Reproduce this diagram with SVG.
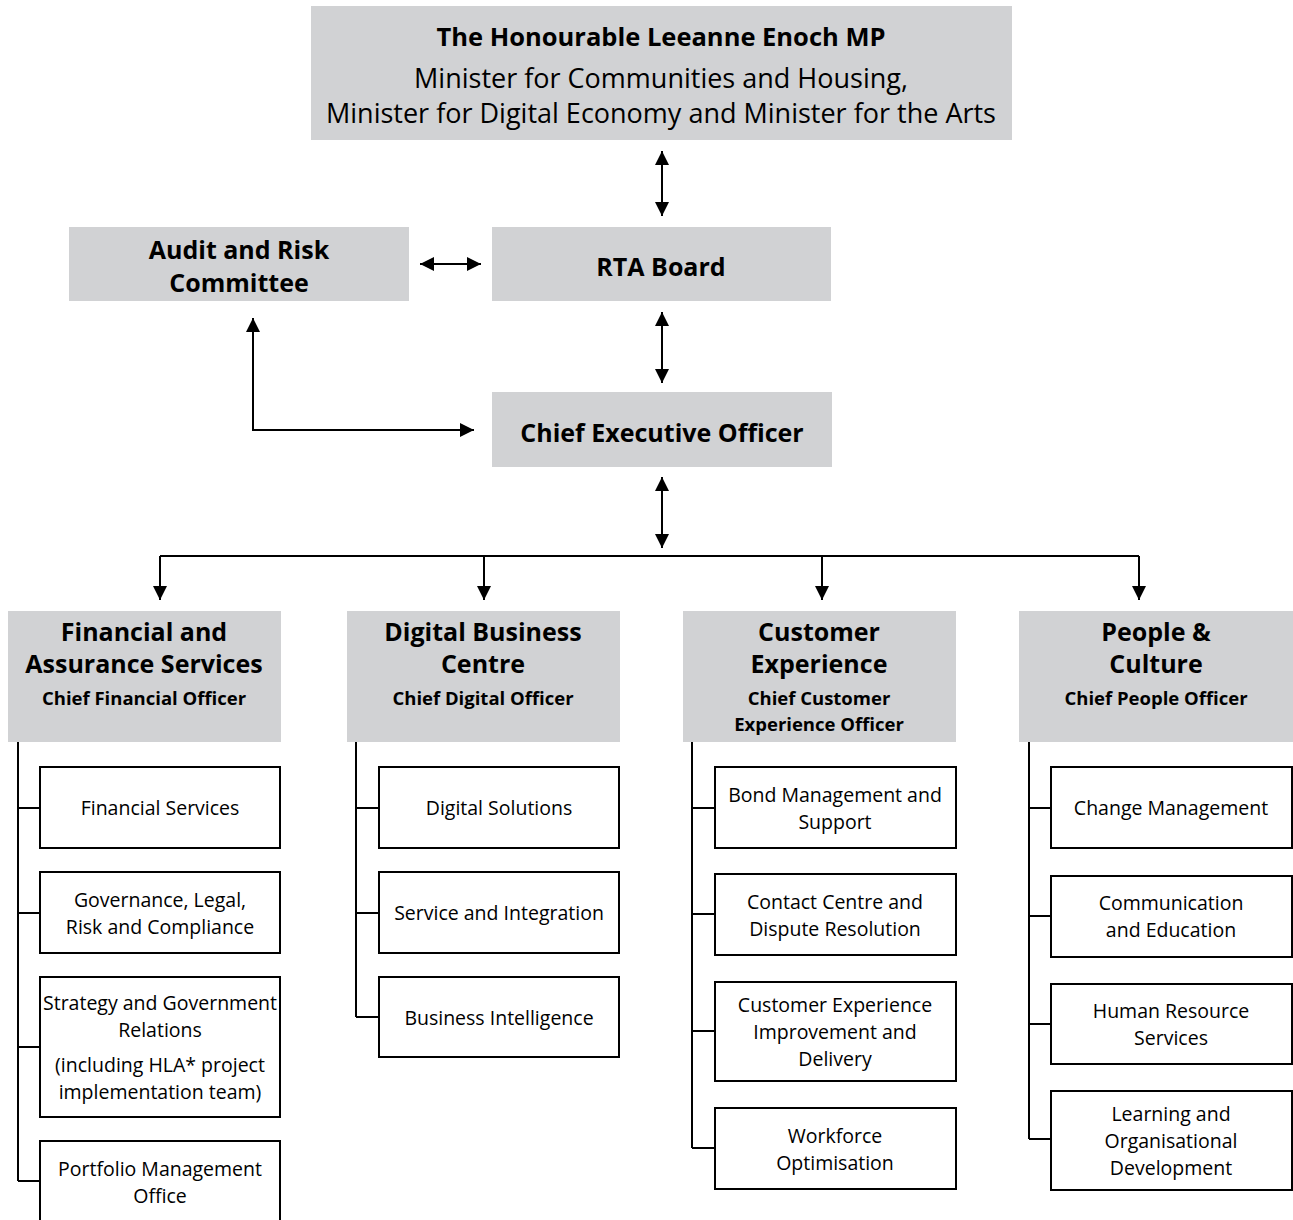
<svg xmlns="http://www.w3.org/2000/svg" width="1293" height="1220" viewBox="0 0 1293 1220">
<style>
.g{fill:#d1d2d4}
.b{fill:#fff;stroke:#000;stroke-width:2}
text{font-family:"Open Sans","Noto Sans",sans-serif;fill:#000;text-anchor:middle}
.h{font-weight:bold;font-size:25px}
.m{font-size:27px}
.s{font-weight:bold;font-size:18.5px}
.t{font-size:19.5px}
.c{fill:none;stroke:#000;stroke-width:2}
</style>
<defs>
<marker id="a" viewBox="0 0 10 10" refX="10" refY="5" markerWidth="14" markerHeight="14" markerUnits="userSpaceOnUse" orient="auto-start-reverse"><path d="M0,0L10,5L0,10z" fill="#000"/></marker>
</defs>
<rect width="1293" height="1220" fill="#fff"/>
<g id="connectors">
<line class="c" x1="662" y1="151" x2="662" y2="216" marker-start="url(#a)" marker-end="url(#a)"/>
<line class="c" x1="420" y1="264" x2="481" y2="264" marker-start="url(#a)" marker-end="url(#a)"/>
<line class="c" x1="662" y1="312" x2="662" y2="383" marker-start="url(#a)" marker-end="url(#a)"/>
<path class="c" d="M253,318V430H474" marker-start="url(#a)" marker-end="url(#a)"/>
<line class="c" x1="662" y1="477" x2="662" y2="548" marker-start="url(#a)" marker-end="url(#a)"/>
<path class="c" d="M160,556H1139"/>
<path class="c" d="M160,556V600" marker-end="url(#a)"/>
<path class="c" d="M484,556V600" marker-end="url(#a)"/>
<path class="c" d="M822,556V600" marker-end="url(#a)"/>
<path class="c" d="M1139,556V600" marker-end="url(#a)"/>
<path class="c" d="M18,742V1181M18,808H40M18,913H40M18,1047H40M18,1181H40"/>
<path class="c" d="M356,742V1017M356,808H379M356,913H379M356,1017H379"/>
<path class="c" d="M692,742V1148M692,808H715M692,914H715M692,1031H715M692,1148H715"/>
<path class="c" d="M1029,742V1139M1029,808H1051M1029,916H1051M1029,1024H1051M1029,1139H1051"/>
</g>
<g id="minister"><rect class="g" x="311" y="6" width="701" height="134"/>
<text class="h" x="661" y="46" style="font-size:25.5px">The Honourable Leeanne Enoch MP</text>
<text class="m" x="661" y="88">Minister for Communities and Housing,</text>
<text class="m" x="661" y="123">Minister for Digital Economy and Minister for the Arts</text></g>
<g id="audit"><rect class="g" x="69" y="227" width="340" height="74"/>
<text class="h" x="239" y="259">Audit and Risk</text><text class="h" x="239" y="292">Committee</text></g>
<g id="rta"><rect class="g" x="492" y="227" width="339" height="74"/>
<text class="h" x="661" y="276">RTA Board</text></g>
<g id="ceo"><rect class="g" x="492" y="392" width="340" height="75"/>
<text class="h" x="662" y="442">Chief Executive Officer</text></g>
<g id="fin"><rect class="g" x="8" y="611" width="273" height="131"/>
<text class="h" x="144" y="641">Financial and</text><text class="h" x="144" y="673">Assurance Services</text><text class="s" x="144" y="705">Chief Financial Officer</text></g>
<g id="dig"><rect class="g" x="347" y="611" width="273" height="131"/>
<text class="h" x="483" y="641">Digital Business</text><text class="h" x="483" y="673">Centre</text><text class="s" x="483" y="705">Chief Digital Officer</text></g>
<g id="cx"><rect class="g" x="683" y="611" width="273" height="131"/>
<text class="h" x="819" y="641">Customer</text><text class="h" x="819" y="673">Experience</text><text class="s" x="819" y="705">Chief Customer</text><text class="s" x="819" y="731">Experience Officer</text></g>
<g id="pc"><rect class="g" x="1019" y="611" width="274" height="131"/>
<text class="h" x="1156" y="641">People &amp;</text><text class="h" x="1156" y="673">Culture</text><text class="s" x="1156" y="705">Chief People Officer</text></g>
<g id="fin1"><rect class="b" x="40" y="767" width="240" height="81"/><text class="t" x="160" y="815">Financial Services</text></g>
<g id="fin2"><rect class="b" x="40" y="872" width="240" height="81"/><text class="t" x="160" y="907">Governance, Legal,</text><text class="t" x="160" y="934">Risk and Compliance</text></g>
<g id="fin3"><rect class="b" x="40" y="977" width="240" height="140"/><text class="t" x="160" y="1010">Strategy and Government</text><text class="t" x="160" y="1037">Relations</text><text class="t" x="160" y="1072">(including HLA* project</text><text class="t" x="160" y="1099">implementation team)</text></g>
<g id="fin4"><path class="b" d="M40,1222V1141H280V1222"/><text class="t" x="160" y="1176">Portfolio Management</text><text class="t" x="160" y="1203">Office</text></g>
<g id="dig1"><rect class="b" x="379" y="767" width="240" height="81"/><text class="t" x="499" y="815">Digital Solutions</text></g>
<g id="dig2"><rect class="b" x="379" y="872" width="240" height="81"/><text class="t" x="499" y="920">Service and Integration</text></g>
<g id="dig3"><rect class="b" x="379" y="977" width="240" height="80"/><text class="t" x="499" y="1025">Business Intelligence</text></g>
<g id="cx1"><rect class="b" x="715" y="767" width="241" height="81"/><text class="t" x="835" y="802">Bond Management and</text><text class="t" x="835" y="829">Support</text></g>
<g id="cx2"><rect class="b" x="715" y="874" width="241" height="81"/><text class="t" x="835" y="909">Contact Centre and</text><text class="t" x="835" y="936">Dispute Resolution</text></g>
<g id="cx3"><rect class="b" x="715" y="982" width="241" height="99"/><text class="t" x="835" y="1012">Customer Experience</text><text class="t" x="835" y="1039">Improvement and</text><text class="t" x="835" y="1066">Delivery</text></g>
<g id="cx4"><rect class="b" x="715" y="1108" width="241" height="81"/><text class="t" x="835" y="1143">Workforce</text><text class="t" x="835" y="1170">Optimisation</text></g>
<g id="pc1"><rect class="b" x="1051" y="767" width="241" height="81"/><text class="t" x="1171" y="815">Change Management</text></g>
<g id="pc2"><rect class="b" x="1051" y="876" width="241" height="81"/><text class="t" x="1171" y="910">Communication</text><text class="t" x="1171" y="937">and Education</text></g>
<g id="pc3"><rect class="b" x="1051" y="984" width="241" height="80"/><text class="t" x="1171" y="1018">Human Resource</text><text class="t" x="1171" y="1045">Services</text></g>
<g id="pc4"><rect class="b" x="1051" y="1091" width="241" height="99"/><text class="t" x="1171" y="1121">Learning and</text><text class="t" x="1171" y="1148">Organisational</text><text class="t" x="1171" y="1175">Development</text></g>
</svg>
